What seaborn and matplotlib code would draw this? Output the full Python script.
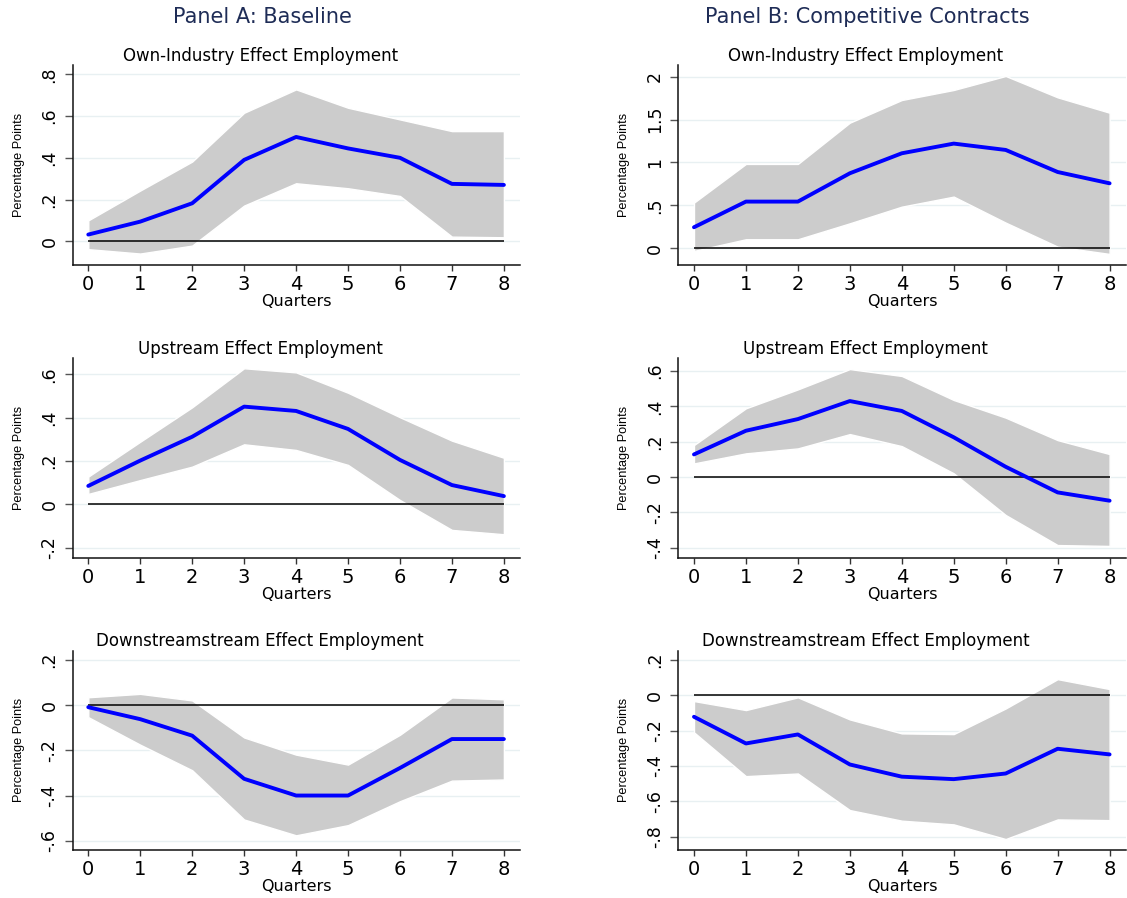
import matplotlib
matplotlib.use("Agg")
import matplotlib.pyplot as plt
import seaborn as sns
import pandas as pd

# ---------------------------------------------------------------- data
quarters = [0, 1, 2, 3, 4, 5, 6, 7, 8]

# Panel A: Baseline
a_own_coef = [0.032, 0.094, 0.182, 0.390, 0.500, 0.445, 0.400, 0.275, 0.270]
a_own_hi = [0.100, 0.243, 0.382, 0.616, 0.728, 0.640, 0.584, 0.528, 0.528]
a_own_lo = [-0.038, -0.059, -0.021, 0.171, 0.278, 0.254, 0.217, 0.022, 0.019]

a_up_coef = [0.085, 0.202, 0.312, 0.451, 0.431, 0.348, 0.205, 0.089, 0.038]
a_up_hi = [0.128, 0.289, 0.448, 0.628, 0.609, 0.515, 0.402, 0.294, 0.215]
a_up_lo = [0.048, 0.112, 0.174, 0.277, 0.251, 0.182, 0.020, -0.118, -0.138]

a_down_coef = [-0.009, -0.062, -0.135, -0.326, -0.400, -0.400, -0.278, -0.150, -0.150]
a_down_hi = [0.035, 0.050, 0.021, -0.143, -0.219, -0.263, -0.131, 0.034, 0.026]
a_down_lo = [-0.053, -0.175, -0.288, -0.506, -0.576, -0.531, -0.425, -0.334, -0.329]

# Panel B: Competitive Contracts
b_own_coef = [0.245, 0.544, 0.544, 0.874, 1.107, 1.220, 1.146, 0.889, 0.757]
b_own_hi = [0.532, 0.983, 0.983, 1.464, 1.728, 1.845, 2.008, 1.759, 1.580]
b_own_lo = [-0.031, 0.105, 0.105, 0.291, 0.485, 0.602, 0.299, 0.019, -0.066]

b_up_coef = [0.128, 0.262, 0.328, 0.430, 0.374, 0.225, 0.058, -0.087, -0.134]
b_up_hi = [0.181, 0.389, 0.496, 0.611, 0.572, 0.436, 0.336, 0.209, 0.130]
b_up_lo = [0.077, 0.134, 0.162, 0.243, 0.175, 0.021, -0.215, -0.385, -0.390]

b_down_coef = [-0.121, -0.272, -0.221, -0.391, -0.460, -0.474, -0.442, -0.302, -0.334]
b_down_hi = [-0.032, -0.083, -0.011, -0.136, -0.215, -0.219, -0.074, 0.092, 0.036]
b_down_lo = [-0.209, -0.457, -0.442, -0.649, -0.709, -0.730, -0.813, -0.702, -0.706]

# y-axis ticks per panel
a_own_ticks = [0, 0.2, 0.4, 0.6, 0.8]
a_up_ticks = [-0.2, 0, 0.2, 0.4, 0.6]
a_down_ticks = [-0.6, -0.4, -0.2, 0, 0.2]
b_own_ticks = [0, 0.5, 1, 1.5, 2]
b_up_ticks = [-0.4, -0.2, 0, 0.2, 0.4, 0.6]
b_down_ticks = [-0.8, -0.6, -0.4, -0.2, 0, 0.2]

panel_titles = ["Panel A: Baseline", "Panel B: Competitive Contracts"]
row_titles = ["Own-Industry Effect Employment",
              "Upstream Effect Employment",
              "Downstreamstream Effect Employment"]
x_label = "Quarters"
y_label = "Percentage Points"

# ---------------------------------------------------------------- style
sns.set_style("white", {"xtick.bottom": True, "ytick.left": True})
plt.rcParams["font.family"] = ["DejaVu Sans"]
plt.rcParams["text.color"] = "black"
plt.rcParams["axes.labelcolor"] = "black"
plt.rcParams["xtick.color"] = "black"
plt.rcParams["ytick.color"] = "black"

W, H = 1127, 898
fig = plt.figure(figsize=(W / 100, H / 100), dpi=100)

# axes boxes in pixels: (left, right) per column, (top, bottom) per row
col_x = [(72.7, 520.0), (678.4, 1125.7)]
row_y = [(65.0, 265.0), (358.3, 558.3), (650.7, 850.0)]

ylims = {
    (0, 0): (-0.114, 0.845), (0, 1): (-0.195, 2.136),
    (1, 0): (-0.249, 0.674), (1, 1): (-0.46, 0.672),
    (2, 0): (-0.641, 0.241), (2, 1): (-0.875, 0.253),
}

series = {
    (0, 0): (a_own_coef, a_own_lo, a_own_hi, a_own_ticks),
    (1, 0): (a_up_coef, a_up_lo, a_up_hi, a_up_ticks),
    (2, 0): (a_down_coef, a_down_lo, a_down_hi, a_down_ticks),
    (0, 1): (b_own_coef, b_own_lo, b_own_hi, b_own_ticks),
    (1, 1): (b_up_coef, b_up_lo, b_up_hi, b_up_ticks),
    (2, 1): (b_down_coef, b_down_lo, b_down_hi, b_down_ticks),
}


def stata_fmt(v):
    s = f"{v:g}"
    if s.startswith("0."):
        s = s[1:]
    elif s.startswith("-0."):
        s = "-" + s[2:]
    return s


for (r, c), (coef, lo, hi, ticks) in series.items():
    x0, x1 = col_x[c]
    y0, y1 = row_y[r]
    ax = fig.add_axes([x0 / W, 1 - y1 / H, (x1 - x0) / W, (y1 - y0) / H])

    df = pd.DataFrame({"quarter": quarters, "coef": coef, "lo": lo, "hi": hi})

    # confidence band
    ax.fill_between(df["quarter"], df["lo"], df["hi"], color="#cccccc",
                    edgecolor="white", linewidth=1.0, zorder=2)
    # zero reference line
    ax.hlines(0, quarters[0], quarters[-1], color="black", linewidth=1.1,
              zorder=3)
    # point estimates
    sns.lineplot(data=df, x="quarter", y="coef", ax=ax, color="#0000ff",
                 linewidth=2.8, zorder=4)

    ax.set_xlim(-0.3, 8.31)
    ax.set_ylim(*ylims[(r, c)])

    # faint horizontal grid at the tick values
    for t in ticks:
        ax.axhline(t, color="#e8f0f2", linewidth=1.0, zorder=1)

    ax.set_xticks(quarters)
    ax.set_xticklabels([str(q) for q in quarters], fontsize=14)
    ax.set_yticks(ticks)
    ax.set_yticklabels([stata_fmt(t) for t in ticks], fontsize=12.5,
                       rotation=90, va="center")

    ax.tick_params(axis="x", bottom=True, length=4.0, width=1.0,
                   color="#333333", pad=3)
    ax.tick_params(axis="y", left=True, length=5.8, width=1.0,
                   color="#555555", pad=4.5)

    for side in ("top", "right"):
        ax.spines[side].set_visible(False)
    for side in ("left", "bottom"):
        ax.spines[side].set_color("#111111")
        ax.spines[side].set_linewidth(1.1)

    ax.set_xlabel(x_label, fontsize=11.5, labelpad=0)
    ax.set_ylabel(y_label, fontsize=9.2,
                  family=["Liberation Sans", "DejaVu Sans"])
    ax.yaxis.set_label_coords(-0.121, 0.5)
    ax.yaxis.label.set_va("center")

    ax.text(0.419, 1.047, row_titles[r], transform=ax.transAxes,
            ha="center", va="center", fontsize=12, color="black")

fig.text(262.5 / W, 1 - 23.3 / H, panel_titles[0], ha="center",
         va="baseline", fontsize=15, color="#1e2c56")
fig.text(867 / W, 1 - 22.7 / H, panel_titles[1], ha="center",
         va="baseline", fontsize=15, color="#1e2c56")

fig.savefig("out.png", dpi=100, facecolor="white")
